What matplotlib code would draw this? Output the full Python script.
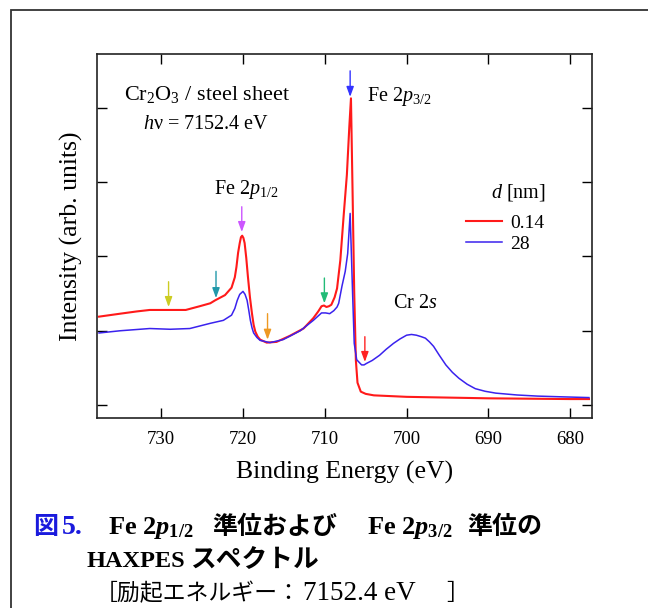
import matplotlib
matplotlib.use("Agg")
import matplotlib.pyplot as plt
from matplotlib.patches import Rectangle

plt.rcParams['font.family'] = ['Liberation Serif', 'Noto Sans CJK JP', 'DejaVu Sans']
plt.rcParams['mathtext.fontset'] = 'custom'
plt.rcParams['mathtext.rm'] = 'Liberation Serif'
plt.rcParams['mathtext.it'] = 'Liberation Serif:italic'
plt.rcParams['mathtext.bf'] = 'Liberation Serif:bold'
plt.rcParams['mathtext.bfit'] = 'Liberation Serif:bold:italic'

# ---- data ----
red_energy = [737.6, 735.0, 733.0, 731.4, 729.0, 727.0, 725.3, 724.0, 723.4, 722.2,
              721.4, 721.0, 720.8, 720.6, 720.4, 720.25, 720.1, 719.95, 719.8, 719.6,
              719.4, 719.15, 718.9, 718.7, 718.5, 718.2, 717.9, 717.1, 715.9, 714.3,
              712.6, 711.4, 710.8, 710.4, 710.1, 709.8, 709.5, 709.2, 708.8, 708.5,
              708.1, 707.7, 707.3, 707.0, 706.8, 706.6, 706.4, 706.2, 706.0, 705.6,
              705.0, 704.0, 702.0, 700.0, 695.0, 690.0, 685.0, 680.0, 677.7]
red_intensity = [1.19, 1.23, 1.26, 1.28, 1.28, 1.28, 1.33, 1.37, 1.41, 1.48,
                 1.58, 1.72, 1.86, 2.05, 2.18, 2.26, 2.28, 2.25, 2.18, 1.98,
                 1.73, 1.45, 1.23, 1.08, 0.99, 0.92, 0.88, 0.84, 0.85, 0.93,
                 1.03, 1.17, 1.26, 1.33, 1.34, 1.32, 1.33, 1.35, 1.45, 1.57,
                 1.95, 2.54, 3.10, 3.75, 4.13, 2.85, 1.51, 0.60, 0.30, 0.18,
                 0.15, 0.13, 0.12, 0.11, 0.10, 0.09, 0.085, 0.08, 0.08]

blue_energy = [737.6, 735.0, 731.4, 728.9, 726.5, 724.0, 722.4, 721.4, 721.0, 720.7,
               720.4, 720.0, 719.75, 719.5, 719.3, 719.1, 718.9, 718.7, 718.3, 717.9,
               716.7, 715.1, 713.0, 711.4, 710.8, 710.4, 709.9, 709.4, 708.9, 708.5,
               708.3, 707.9, 707.5, 707.2, 706.9, 706.6, 706.4, 706.1, 705.5, 705.2,
               704.9, 704.2, 703.3, 702.5, 701.6, 700.8, 700.0, 699.4, 698.8, 698.2,
               697.7, 697.2, 696.7, 696.0, 695.2, 694.4, 693.6, 692.6, 691.6, 690.4,
               689.1, 686.5, 684.0, 681.0, 677.7]
blue_intensity = [0.97, 1.00, 1.03, 1.02, 1.03, 1.10, 1.14, 1.21, 1.30, 1.41,
                  1.49, 1.53, 1.49, 1.41, 1.28, 1.14, 1.04, 0.97, 0.91, 0.87,
                  0.84, 0.88, 1.00, 1.14, 1.20, 1.24, 1.24, 1.23, 1.27, 1.32,
                  1.37, 1.60, 1.80, 2.04, 2.58, 1.50, 0.83, 0.61, 0.54, 0.54,
                  0.56, 0.60, 0.67, 0.75, 0.83, 0.89, 0.94, 0.95, 0.94, 0.92,
                  0.90, 0.85, 0.79, 0.67, 0.54, 0.44, 0.36, 0.28, 0.22, 0.185,
                  0.16, 0.135, 0.12, 0.11, 0.10]

series_labels = ['0.14', '28']

arrow_energy = [729.1, 723.3, 720.15, 717.0, 710.05, 706.9, 705.1]
arrow_tail = [1.66, 1.80, 2.67, 1.23, 1.71, 4.50, 0.92]
arrow_head = [1.32, 1.44, 2.33, 0.88, 1.37, 4.15, 0.58]
arrow_colors = ['#cccc22', '#2299aa', '#cc55ff', '#ee9922', '#22bb77', '#3333ff', '#ff2222']

x_ticks = [730, 720, 710, 700, 690, 680]
y_ticks = [0, 1, 2, 3, 4]

# ---- figure ----
W, H = 648, 608
fig = plt.figure(figsize=(W / 100, H / 100), dpi=100)

def fx(px):
    return px / W

def fy(py):
    return 1 - py / H

# outer frame
fig.patches.append(Rectangle((fx(11), fy(700)), 1.2, (700 - 10) / H,
                             transform=fig.transFigure, fill=False,
                             edgecolor='#333333', linewidth=1.3))

ax = fig.add_axes([fx(97), fy(418), fx(592) - fx(97), fy(54) - fy(418)])

ax.plot(red_energy, red_intensity, color='#ff1a1a', lw=1.5, label=series_labels[0])
ax.plot(blue_energy, blue_intensity, color='#3a22ee', lw=1.1, label=series_labels[1])

for e, t, h, c in zip(arrow_energy, arrow_tail, arrow_head, arrow_colors):
    ax.annotate('', xy=(e, h), xytext=(e, t),
                arrowprops=dict(arrowstyle='-|>,head_length=0.6,head_width=0.22',
                                color=c, lw=1.0, shrinkA=0, shrinkB=0,
                                mutation_scale=10))

ax.set_xlim(737.85, 677.33)
ax.set_ylim(-0.175, 4.727)
ax.set_xticks(x_ticks)
ax.set_xticklabels([str(v) for v in x_ticks])
ax.set_yticks(y_ticks)
ax.set_yticklabels([])
ax.tick_params(direction='in', length=7.5, width=1.0, top=True, right=True,
               labelsize=13.5, pad=9, colors='black')
for s in ax.spines.values():
    s.set_linewidth(1.2)
    s.set_color('#222222')

ax.set_xlabel('Binding Energy (eV)', fontsize=18.5, labelpad=9.5)
ax.set_ylabel('Intensity (arb. units)', fontsize=18.5, labelpad=1)

# annotations
ax.text(734.55, 4.11, 'Cr$_2$O$_3$ / steel sheet', fontsize=16, va='baseline', ha='left')
ax.text(732.2, 3.72, '$\\mathit{h}$\u03bd = 7152.4 eV', fontsize=14.5, va='baseline', ha='left')
ax.text(723.5, 2.84, 'Fe 2$\\mathit{p}_{1/2}$', fontsize=14.5, va='baseline', ha='left')
ax.text(704.8, 4.10, 'Fe 2$\\mathit{p}_{3/2}$', fontsize=14.5, va='baseline', ha='left')
ax.text(701.7, 1.30, 'Cr 2$\\mathit{s}$', fontsize=14.5, va='baseline', ha='left')
ax.text(683.0, 2.80, '$\\mathit{d}$ [nm]', fontsize=14.5, va='baseline', ha='right')

leg = ax.legend(loc='upper left', bbox_to_anchor=(fx(452), fy(201)),
                bbox_transform=fig.transFigure, frameon=False, fontsize=14,
                handlelength=1.85, handletextpad=0.45, labelspacing=0.15,
                borderpad=0.2)

# caption
b1, b2, b3 = 534, 567, 600
fig.text(fx(33), fy(b1), '図', color='#1a1add', fontsize=18, fontweight='bold',
         va='baseline', ha='left')
fig.text(fx(62), fy(b1), '5.', color='#1a1add', fontsize=20, fontweight='bold',
         va='baseline', ha='left')
fig.text(fx(108), fy(b1), 'Fe 2$\\boldsymbol{p}_{\\mathbf{1/2}}$', fontsize=19,
         fontweight='bold', va='baseline', ha='left')
fig.text(fx(212), fy(b1), '準位および', fontsize=18, fontweight='bold',
         va='baseline', ha='left')
fig.text(fx(367), fy(b1), 'Fe 2$\\boldsymbol{p}_{\\mathbf{3/2}}$', fontsize=19,
         fontweight='bold', va='baseline', ha='left')
fig.text(fx(467), fy(b1), '準位の', fontsize=18, fontweight='bold',
         va='baseline', ha='left')
fig.text(fx(87), fy(b2), 'HAXPES', fontsize=17.5, fontweight='bold',
         va='baseline', ha='left')
fig.text(fx(190), fy(b2), 'スペクトル', fontsize=18.5, fontweight='bold',
         va='baseline', ha='left')
fig.text(fx(95), fy(b3), '［励起エネルギー：', fontsize=16.5,
         va='baseline', ha='left')
fig.text(fx(303), fy(b3), '7152.4 eV', fontsize=19.5,
         va='baseline', ha='left')
fig.text(fx(446), fy(b3), '］', fontsize=16.5,
         va='baseline', ha='left')

fig.savefig('out.png', dpi=100)
